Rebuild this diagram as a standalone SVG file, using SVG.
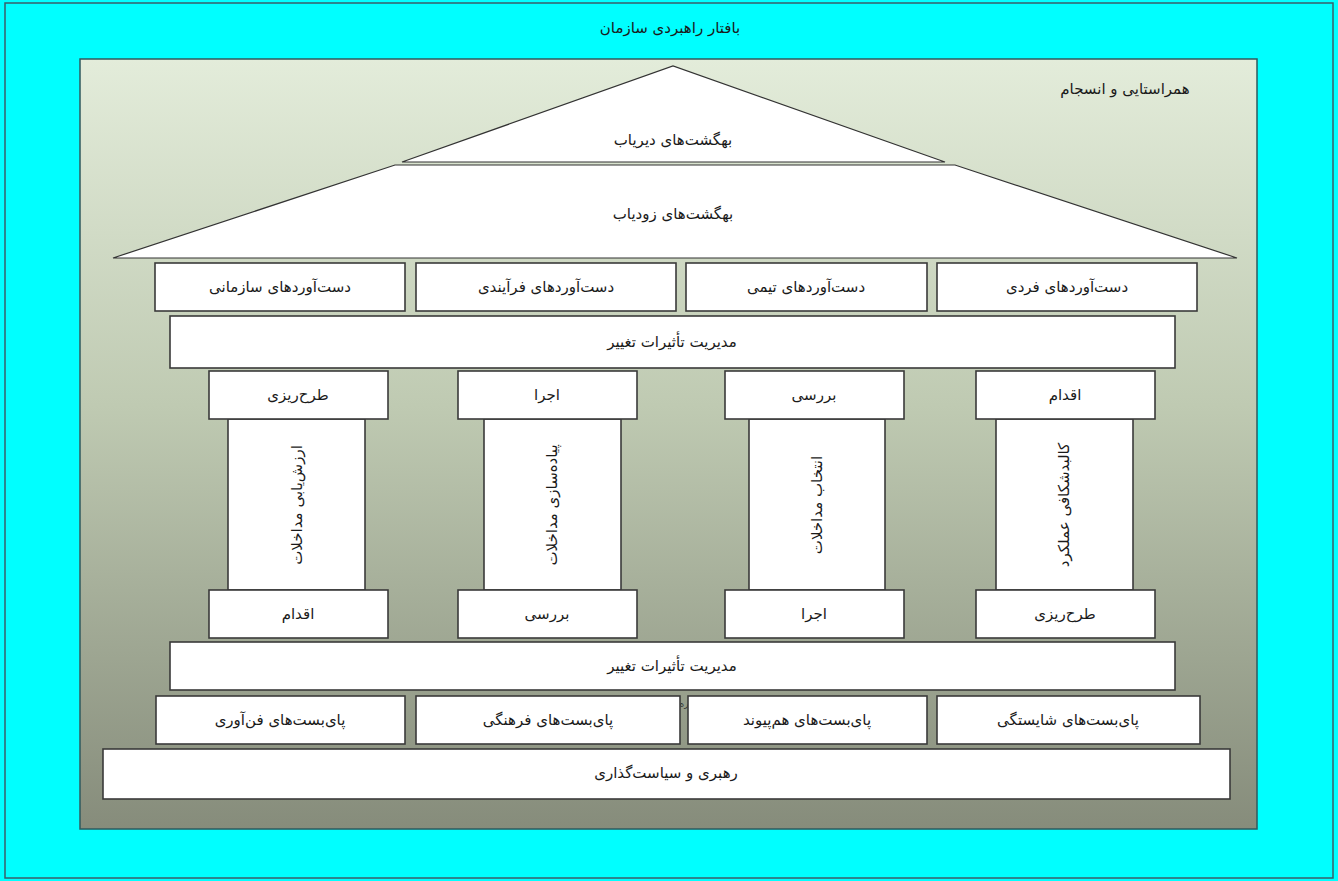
<svg xmlns="http://www.w3.org/2000/svg" width="1338" height="881" viewBox="0 0 1338 881">
<defs>
<linearGradient id="bg" x1="0" y1="0" x2="0" y2="1">
<stop offset="0" stop-color="#e3ecda"/>
<stop offset="0.45" stop-color="#bfcab2"/>
<stop offset="1" stop-color="#868c7b"/>
</linearGradient>
<style>
.box{fill:#ffffff;stroke:#3a3a3a;stroke-width:1.6}
.roof{fill:#ffffff;stroke:#333333;stroke-width:1.2}
.t{font-family:"DejaVu Sans","Noto Sans",sans-serif;font-size:15px;fill:#1a1a1a;text-anchor:middle;dominant-baseline:central}
.v{font-family:"DejaVu Sans","Noto Sans",sans-serif;font-size:15px;fill:#1a1a1a;text-anchor:middle;dominant-baseline:central}
</style>
</defs>
<rect x="0" y="0" width="1338" height="881" fill="#00ffff"/>
<rect x="5" y="3" width="1328" height="875" fill="none" stroke="#3a5f6a" stroke-width="1.5"/>
<g id="title"><text class="t" x="670" y="28">بافتار راهبردی سازمان</text></g>
<g id="frame">
<rect x="80" y="59" width="1177" height="770" fill="url(#bg)" stroke="#2f5a5e" stroke-width="1.5"/>
<text class="t" x="1125" y="89">همراستایی و انسجام</text>
</g>
<g id="connectors"></g>
<g id="roof-top">
<polygon class="roof" points="402,162 673,66 945,162"/>
<text class="t" x="673" y="140">بهگشت‌های دیریاب</text>
</g>
<g id="roof-bottom">
<polygon class="roof" points="395,165 955,165 1237,258 113,258"/>
<text class="t" x="673" y="214">بهگشت‌های زودیاب</text>
</g>
<g id="out1"><rect class="box" x="155" y="263" width="250" height="48"/><text class="t" x="280" y="287">دست‌آوردهای سازمانی</text></g>
<g id="out2"><rect class="box" x="416" y="263" width="260" height="48"/><text class="t" x="546" y="287">دست‌آوردهای فرآیندی</text></g>
<g id="out3"><rect class="box" x="686" y="263" width="241" height="48"/><text class="t" x="806" y="287">دست‌آوردهای تیمی</text></g>
<g id="out4"><rect class="box" x="937" y="263" width="260" height="48"/><text class="t" x="1067" y="287">دست‌آوردهای فردی</text></g>
<g id="mgmt1"><rect class="box" x="170" y="316" width="1005" height="52"/><text class="t" x="672" y="342">مدیریت تأثیرات تغییر</text></g>
<g id="pillar1">
<rect class="box" x="228" y="419" width="137" height="171"/>
<rect class="box" x="209" y="371" width="179" height="48"/>
<rect class="box" x="209" y="590" width="179" height="48"/>
<text class="t" x="298" y="395">طرح‌ریزی</text>
<text class="v" transform="translate(297,505) rotate(-90)" x="0" y="0">ارزش‌یابی مداخلات</text>
<text class="t" x="298" y="614">اقدام</text>
</g>
<g id="pillar2">
<rect class="box" x="484" y="419" width="137" height="171"/>
<rect class="box" x="458" y="371" width="179" height="48"/>
<rect class="box" x="458" y="590" width="179" height="48"/>
<text class="t" x="547" y="395">اجرا</text>
<text class="v" transform="translate(552,505) rotate(-90)" x="0" y="0">پیاده‌سازی مداخلات</text>
<text class="t" x="547" y="614">بررسی</text>
</g>
<g id="pillar3">
<rect class="box" x="749" y="419" width="136" height="171"/>
<rect class="box" x="725" y="371" width="179" height="48"/>
<rect class="box" x="725" y="590" width="179" height="48"/>
<text class="t" x="814" y="395">بررسی</text>
<text class="v" transform="translate(817,505) rotate(-90)" x="0" y="0">انتخاب مداخلات</text>
<text class="t" x="814" y="614">اجرا</text>
</g>
<g id="pillar4">
<rect class="box" x="996" y="419" width="137" height="171"/>
<rect class="box" x="976" y="371" width="179" height="48"/>
<rect class="box" x="976" y="590" width="179" height="48"/>
<text class="t" x="1065" y="395">اقدام</text>
<text class="v" transform="translate(1064,505) rotate(-90)" x="0" y="0">کالبدشکافی عملکرد</text>
<text class="t" x="1065" y="614">طرح‌ریزی</text>
</g>
<g id="mgmt2"><rect class="box" x="170" y="642" width="1005" height="48"/><text class="t" x="672" y="666">مدیریت تأثیرات تغییر</text></g>
<g id="frag"><text x="684" y="707" font-family="DejaVu Sans,sans-serif" font-size="9" fill="#333" text-anchor="middle">ره</text></g>
<g id="base1"><rect class="box" x="156" y="696" width="249" height="48"/><text class="t" x="280" y="720">پای‌بست‌های فن‌آوری</text></g>
<g id="base2"><rect class="box" x="416" y="696" width="264" height="48"/><text class="t" x="548" y="720">پای‌بست‌های فرهنگی</text></g>
<g id="base3"><rect class="box" x="688" y="696" width="239" height="48"/><text class="t" x="807" y="720">پای‌بست‌های هم‌پیوند</text></g>
<g id="base4"><rect class="box" x="937" y="696" width="263" height="48"/><text class="t" x="1068" y="720">پای‌بست‌های شایستگی</text></g>
<g id="leader"><rect class="box" x="103" y="749" width="1127" height="50"/><text class="t" x="666" y="773">رهبری و سیاست‌گذاری</text></g>
</svg>
